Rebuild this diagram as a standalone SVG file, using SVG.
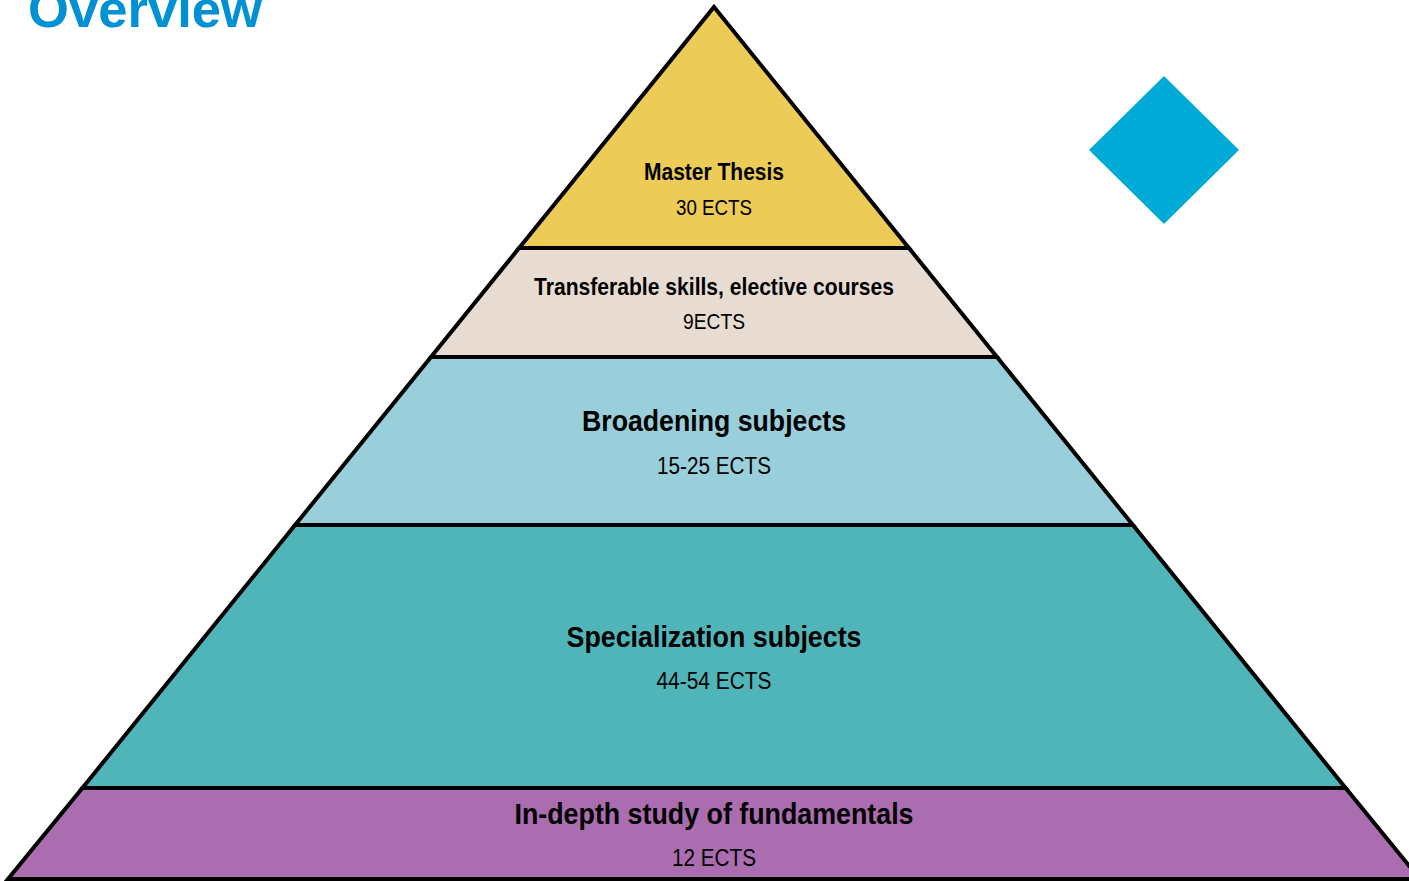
<svg xmlns="http://www.w3.org/2000/svg" width="1409" height="881" viewBox="0 0 1409 881">
<style>
.layer{stroke:#000;stroke-width:4;stroke-linejoin:miter}
.t{font-family:"Liberation Sans Narrow","Liberation Sans",Arial,sans-serif;text-anchor:middle;fill:#000}
.b{font-weight:bold}
</style>
<rect width="1409" height="881" fill="#fff"/>
<text x="28" y="27" font-family="Liberation Sans,Arial,sans-serif" font-weight="bold" font-size="52" fill="#0091D5" textLength="234" lengthAdjust="spacingAndGlyphs">Overview</text>
<polygon id="diamond" points="1164,76 1239,150 1164,224 1089,150" fill="#00AAD7"/>
<g id="fundamentals">
<polygon class="layer" points="82.4,788 1345.6,788 1420,879 8,879" fill="#AA6DAF"/>
<text class="t b" x="714" y="824" font-size="30" textLength="399" lengthAdjust="spacingAndGlyphs">In-depth study of fundamentals</text>
<text class="t" x="714" y="866" font-size="24" textLength="84" lengthAdjust="spacingAndGlyphs">12 ECTS</text>
</g>
<g id="specialization">
<polygon class="layer" points="295.1,525 1132.9,525 1345.6,788 82.4,788" fill="#50B5B8"/>
<text class="t b" x="714" y="647" font-size="30" textLength="295" lengthAdjust="spacingAndGlyphs">Specialization subjects</text>
<text class="t" x="714" y="689" font-size="24" textLength="115" lengthAdjust="spacingAndGlyphs">44-54 ECTS</text>
</g>
<g id="broadening">
<polygon class="layer" points="431,357 997,357 1132.9,525 295.1,525" fill="#99CFDA"/>
<text class="t b" x="714" y="431" font-size="30" textLength="264" lengthAdjust="spacingAndGlyphs">Broadening subjects</text>
<text class="t" x="714" y="474" font-size="24" textLength="114" lengthAdjust="spacingAndGlyphs">15-25 ECTS</text>
</g>
<g id="transferable">
<polygon class="layer" points="519.1,248 908.9,248 997,357 431,357" fill="#E8DCD2"/>
<text class="t b" x="714" y="295" font-size="24" textLength="360" lengthAdjust="spacingAndGlyphs">Transferable skills, elective courses</text>
<text class="t" x="714" y="329" font-size="22" textLength="62" lengthAdjust="spacingAndGlyphs">9ECTS</text>
</g>
<g id="thesis">
<polygon class="layer" points="714,7 908.9,248 519.1,248" fill="#ECCB57"/>
<text class="t b" x="714" y="180" font-size="24" textLength="140" lengthAdjust="spacingAndGlyphs">Master Thesis</text>
<text class="t" x="714" y="215" font-size="22" textLength="76" lengthAdjust="spacingAndGlyphs">30 ECTS</text>
</g>
<g id="connectors"/>
</svg>
